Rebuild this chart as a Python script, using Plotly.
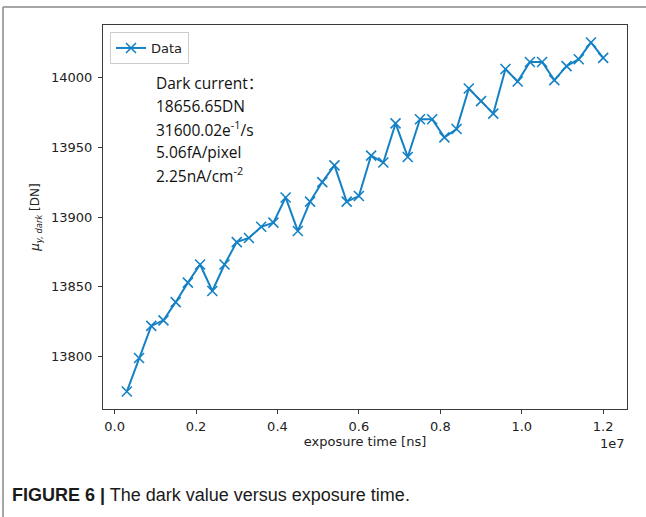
import plotly.graph_objects as go

# ---- data ----
exposure_ns = [300000, 600000, 900000, 1200000, 1500000, 1800000, 2100000, 2400000,
               2700000, 3000000, 3300000, 3600000, 3900000, 4200000, 4500000, 4800000,
               5100000, 5400000, 5700000, 6000000, 6300000, 6600000, 6900000, 7200000,
               7500000, 7800000, 8100000, 8400000, 8700000, 9000000, 9300000, 9600000,
               9900000, 10200000, 10500000, 10800000, 11100000, 11400000, 11700000, 12000000]
dark_dn = [13775, 13799, 13822, 13826, 13839, 13853, 13866, 13847,
           13866, 13882, 13885, 13893, 13896, 13914, 13890, 13911,
           13925, 13937, 13911, 13915, 13944, 13939, 13967, 13943,
           13970, 13970, 13957, 13963, 13992, 13983, 13974, 14006,
           13997, 14011, 14011, 13998, 14008, 14013, 14025, 14014]
series_name = "Data"
x_tickvals = [0, 2000000, 4000000, 6000000, 8000000, 10000000, 12000000]
x_ticktext = ["0.0", "0.2", "0.4", "0.6", "0.8", "1.0", "1.2"]
y_tickvals = [13800, 13850, 13900, 13950, 14000]
y_ticktext = ["13800", "13850", "13900", "13950", "14000"]
info_lines = ["Dark current：", "18656.65DN", "31600.02e<sup>-1</sup>/s",
              "5.06fA/pixel", "2.25nA/cm<sup>-2</sup>"]
caption = "<b>FIGURE 6 |</b> The dark value versus exposure time."

# ---- layout geometry ----
W, H = 646, 517
ML, MR, MT, MB = 103, 19, 25, 108
PW, PH = W - ML - MR, H - MT - MB


def px(xp):
    return (xp - ML) / PW


def py(yp):
    return (H - MB - yp) / PH


def margin_range(v):
    lo, hi = min(v), max(v)
    pad = 0.05 * (hi - lo)
    return [lo - pad, hi + pad]


color = "#1581c5"
axis_color = "#3a3a3a"
tick_font = dict(family="DejaVu Sans", size=13, color="#222")

fig = go.Figure()
fig.add_trace(go.Scatter(
    x=exposure_ns, y=dark_dn, name=series_name, mode="lines+markers",
    line=dict(color=color, width=2),
    marker=dict(symbol="x-thin", size=10, line=dict(color=color, width=1.6), color=color),
    showlegend=True,
))

fig.update_layout(
    width=W, height=H,
    margin=dict(l=ML, r=MR, t=MT, b=MB, autoexpand=False),
    paper_bgcolor="white", plot_bgcolor="white",
    showlegend=True,
    legend=dict(x=px(110), y=py(32), xanchor="left", yanchor="top",
                bordercolor="#cccccc", borderwidth=1, bgcolor="white",
                font=dict(family="DejaVu Sans", size=13, color="#222"),
                itemwidth=30, tracegroupgap=0),
    xaxis=dict(range=margin_range(exposure_ns), tickvals=x_tickvals, ticktext=x_ticktext,
               showgrid=False, zeroline=False, showline=True, mirror=True,
               linecolor=axis_color, linewidth=1.2, ticks="outside", ticklen=4,
               tickcolor=axis_color, tickfont=tick_font, ticklabelstandoff=1,
               title=dict(text="exposure time [ns]", standoff=3,
                          font=dict(family="DejaVu Sans", size=13, color="#222"))),
    yaxis=dict(range=margin_range(dark_dn), tickvals=y_tickvals, ticktext=y_ticktext,
               showgrid=False, zeroline=False, showline=True, mirror=True,
               linecolor=axis_color, linewidth=1.2, ticks="outside", ticklen=4,
               tickcolor=axis_color, tickfont=tick_font, ticklabelstandoff=3,
               title=dict(text="<i>μ</i><sub><i>y, dark</i></sub> [DN]", standoff=8,
                          font=dict(family="DejaVu Sans", size=12, color="#222"))),
)

# info text lines
line_y = [83, 106, 129, 152, 175]
for t, yy in zip(info_lines, line_y):
    fig.add_annotation(text=t, xref="paper", yref="paper", x=px(154), y=py(yy),
                       xanchor="left", yanchor="middle", showarrow=False,
                       font=dict(family="Open Sans, Noto Sans CJK SC", size=15.5, color="#111"))

# offset text
fig.add_annotation(text="1e7", xref="paper", yref="paper", x=1.0, y=py(443),
                   xanchor="right", yanchor="middle", showarrow=False,
                   font=dict(family="DejaVu Sans", size=13, color="#222"))

# caption
fig.add_annotation(text=caption, xref="paper", yref="paper", x=px(10), y=py(495),
                   xanchor="left", yanchor="middle", showarrow=False,
                   font=dict(family="Liberation Sans", size=18, color="#1a1a1a"))

# outer frame lines (top and left)
fig.add_shape(type="line", xref="paper", yref="paper", x0=px(3), x1=px(W + 5),
              y0=py(7), y1=py(7), line=dict(color="#888", width=1.5))
fig.add_shape(type="line", xref="paper", yref="paper", x0=px(3), x1=px(3),
              y0=py(7), y1=py(H + 5), line=dict(color="#888", width=1.5))

fig.write_html("out.html")
